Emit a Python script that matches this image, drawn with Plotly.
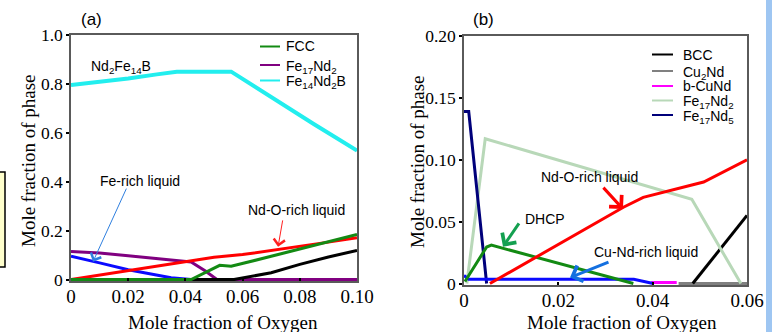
import plotly.graph_objects as go

W, H = 772, 332

# ---------------- Panel (a) data ----------------
a_cyan_x = [0, 0.01, 0.02, 0.03, 0.037, 0.056, 0.07, 0.085, 0.10]
a_cyan_y = [0.795, 0.807, 0.822, 0.839, 0.85, 0.85, 0.745, 0.635, 0.527]
a_purple_x = [0, 0.005, 0.01, 0.02, 0.03, 0.04, 0.042, 0.047, 0.051, 0.06, 0.08, 0.10]
a_purple_y = [0.115, 0.113, 0.108, 0.097, 0.086, 0.077, 0.072, 0.035, 0, 0, 0, 0]
a_blue_x = [0, 0.005, 0.01, 0.02, 0.03, 0.035, 0.04, 0.042]
a_blue_y = [0.095, 0.083, 0.068, 0.04, 0.017, 0.007, 0.002, 0.0]
a_black_x = [0, 0.057, 0.07, 0.08, 0.09, 0.10]
a_black_y = [0, 0, 0.028, 0.062, 0.092, 0.119]
a_red_x = [0, 0.01, 0.02, 0.03, 0.04, 0.05, 0.06, 0.07, 0.08, 0.09, 0.10]
a_red_y = [0, 0.018, 0.036, 0.054, 0.072, 0.091, 0.102, 0.118, 0.135, 0.153, 0.171]
a_green_x = [0, 0.042, 0.052, 0.056, 0.07, 0.08, 0.09, 0.10]
a_green_y = [0, 0, 0.058, 0.054, 0.095, 0.125, 0.154, 0.184]

# ---------------- Panel (b) data ----------------
b_black_x = [0.0485, 0.06]
b_black_y = [0, 0.055]
b_gray_x = [0.0455, 0.06]
b_gray_y = [0, 0]
b_magenta_x = [0.0397, 0.0451]
b_magenta_y = [0.0008, 0.0008]
b_lgreen_x = [0.0006, 0.0045, 0.0483, 0.0587]
b_lgreen_y = [0, 0.117, 0.068, 0]
b_navy_x = [0, 0.001, 0.0048]
b_navy_y = [0.139, 0.139, 0]
b_blue_x = [0, 0.001, 0.036, 0.0401]
b_blue_y = [0.0065, 0.0035, 0.0035, 0]
b_green_x = [0.0002, 0.0048, 0.0058, 0.0359]
b_green_y = [0.0016, 0.0295, 0.031, 0]
b_red_x = [0.0055, 0.02, 0.0338, 0.038, 0.045, 0.0508, 0.06]
b_red_y = [0, 0.0315, 0.0616, 0.0696, 0.0765, 0.082, 0.1]

# tick labels
a_xticks = [0, 0.02, 0.04, 0.06, 0.08, 0.10]
a_xtext = ["0", "0.02", "0.04", "0.06", "0.08", "0.10"]
a_yticks = [0, 0.2, 0.4, 0.6, 0.8, 1.0]
a_ytext = ["0", "0.2", "0.4", "0.6", "0.8", "1.0"]
b_xticks = [0, 0.02, 0.04, 0.06]
b_xtext = ["0", "0.02", "0.04", "0.06"]
b_yticks = [0, 0.05, 0.10, 0.15, 0.20]
b_ytext = ["0", "0.05", "0.10", "0.15", "0.20"]

# legend entries
a_leg_names = ["FCC", "Fe<sub>17</sub>Nd<sub>2</sub>", "Fe<sub>14</sub>Nd<sub>2</sub>B"]
b_leg_names = ["BCC", "Cu<sub>2</sub>Nd", "b-CuNd", "Fe<sub>17</sub>Nd<sub>2</sub>", "Fe<sub>17</sub>Nd<sub>5</sub>"]

SERIF = "Liberation Serif"
SANS = "Liberation Sans"

C_CYAN = "#22eeee"
C_PURPLE = "#800080"
C_BLUE = "#0a0aff"
C_RED = "#ff0000"
C_GREEN = "#138a13"
C_BLACK = "#000000"
C_NAVY = "#00007a"
C_LGREEN = "#b8d8b8"
C_GRAY = "#808080"
C_MAGENTA = "#ff00ff"

a_leg_colors = [C_GREEN, C_PURPLE, C_CYAN]
b_leg_colors = [C_BLACK, C_GRAY, C_MAGENTA, C_LGREEN, C_NAVY]

fig = go.Figure()


def line(x, y, color, width, xa="x", ya="y"):
    fig.add_trace(go.Scatter(x=x, y=y, mode="lines", line=dict(color=color, width=width),
                             xaxis=xa, yaxis=ya, showlegend=False, hoverinfo="skip"))


# panel a
line(a_cyan_x, a_cyan_y, C_CYAN, 4)
line(a_purple_x, a_purple_y, C_PURPLE, 3)
line(a_blue_x, a_blue_y, C_BLUE, 3)
line(a_black_x, a_black_y, C_BLACK, 3)
line(a_red_x, a_red_y, C_RED, 3)
line(a_green_x, a_green_y, C_GREEN, 3)

# panel b
line(b_gray_x, b_gray_y, C_GRAY, 3, "x2", "y2")
line(b_magenta_x, b_magenta_y, C_MAGENTA, 3, "x2", "y2")
line(b_black_x, b_black_y, C_BLACK, 3, "x2", "y2")
line(b_lgreen_x, b_lgreen_y, C_LGREEN, 3, "x2", "y2")
line(b_navy_x, b_navy_y, C_NAVY, 3, "x2", "y2")
line(b_blue_x, b_blue_y, C_BLUE, 3, "x2", "y2")
line(b_green_x, b_green_y, C_GREEN, 3, "x2", "y2")
line(b_red_x, b_red_y, C_RED, 3, "x2", "y2")


def px(x):
    return x / W


def py(y):
    return (H - y) / H


axis_common = dict(showgrid=False, zeroline=False, showline=True, mirror=True,
                   linecolor="#5a5a5a", linewidth=1.5, tickcolor="#000000",
                   tickwidth=2, ticklen=3, automargin=False)
xfont = dict(family=SERIF, size=19, color="#000000")
yfont = dict(family=SERIF, size=17.5, color="#000000")

fig.update_layout(
    width=W, height=H, margin=dict(l=0, r=0, t=0, b=0, pad=0, autoexpand=False),
    paper_bgcolor="white", plot_bgcolor="white", showlegend=False,
    xaxis=dict(domain=[px(71), px(357)], range=[0, 0.1], tickvals=a_xticks, ticktext=a_xtext,
               ticks="inside", anchor="y", tickfont=xfont, ticklabelstandoff=-3, **axis_common),
    yaxis=dict(domain=[py(281), py(35)], range=[-0.006, 1.0], tickvals=a_yticks, ticktext=a_ytext,
               ticks="outside", anchor="x", tickfont=yfont, **axis_common),
    xaxis2=dict(domain=[px(464), px(747)], range=[0, 0.06], tickvals=b_xticks, ticktext=b_xtext,
                ticks="inside", anchor="y2", tickfont=xfont, ticklabelstandoff=-3, **axis_common),
    yaxis2=dict(domain=[py(285), py(36)], range=[-0.0012, 0.2], tickvals=b_yticks, ticktext=b_ytext,
                ticks="outside", anchor="x2", tickfont=yfont, **axis_common),
)

ann = []
shapes = []


def text(x, y, t, size=14, xref="paper", yref="paper", family=SANS, angle=0, xanchor="center"):
    ann.append(dict(x=x, y=y, xref=xref, yref=yref, text=t, showarrow=False,
                    font=dict(family=family, size=size, color="#000"),
                    xanchor=xanchor, yanchor="middle", textangle=angle))


def arrow(hx, hy, tx, ty, color, width, head, size, xr, yr):
    ann.append(dict(x=hx, y=hy, ax=tx, ay=ty, xref=xr, yref=yr, axref=xr, ayref=yr,
                    text="", showarrow=True, arrowcolor=color, arrowwidth=width,
                    arrowhead=head, arrowsize=size, standoff=0, startstandoff=0))


def legend(names, colors, x0, x1, xt, ys, ty_off):
    for n, c, yy in zip(names, colors, ys):
        shapes.append(dict(type="line", xref="paper", yref="paper", x0=px(x0), x1=px(x1),
                           y0=py(yy), y1=py(yy), line=dict(color=c, width=2)))
        off = ty_off if "<sub>" in n else 0
        text(px(xt), py(yy + off), n, size=14, xanchor="left")


# legends
legend(a_leg_names, a_leg_colors, 260, 280, 284, [46.5, 65, 80.5], 1.5)
legend(b_leg_names, b_leg_colors, 652, 673, 681, [54.5, 71, 86, 100.5, 115], 1.5)

# panel titles
text(px(91), py(20), "(a)", size=17)
text(px(483), py(20), "(b)", size=17)
# axis titles
text(px(223), py(322), "Mole fraction of Oxygen", size=19, family=SERIF)
text(px(622), py(322), "Mole fraction of Oxygen", size=19, family=SERIF)
text(px(28), py(161), "Mole fraction of phase", size=19, family=SERIF, angle=-90)
text(px(417), py(162), "Mole fraction of phase", size=19, family=SERIF, angle=-90)

# panel a labels
text(0.0175, 0.87, "Nd<sub>2</sub>Fe<sub>14</sub>B", xref="x", yref="y")
text(0.0241, 0.402, "Fe-rich liquid", xref="x", yref="y")
text(0.079, 0.285, "Nd-O-rich liquid", xref="x", yref="y")
arrow(0.0077, 0.073, 0.0196, 0.378, "#2f7fdf", 1, 4, 2.2, "x", "y")
arrow(0.0724, 0.134, 0.0741, 0.248, "#ff2020", 1, 4, 2.2, "x", "y")

# panel b labels
text(0.0267, 0.0859, "Nd-O-rich liquid", xref="x2", yref="y2")
text(0.01717, 0.0522, "DHCP", xref="x2", yref="y2")
text(0.0386, 0.0257, "Cu-Nd-rich liquid", xref="x2", yref="y2")
arrow(0.0337, 0.0602, 0.02926, 0.0787, C_RED, 3, 4, 1.1, "x2", "y2")
arrow(0.00827, 0.0297, 0.01187, 0.0498, "#14a050", 3, 4, 1.1, "x2", "y2")
arrow(0.02247, 0.0048, 0.03095, 0.0177, "#1470e0", 3, 4, 1.1, "x2", "y2")

shapes += [
    dict(type="rect", xref="paper", yref="paper", x0=px(-2), x1=px(5), y0=py(267), y1=py(172),
         fillcolor="#ffffcc", line=dict(color="#000", width=1.5)),
    dict(type="rect", xref="paper", yref="paper", x0=px(766), x1=px(773), y0=0, y1=1,
         fillcolor="#9ec6f2", line=dict(width=0)),
]

fig.update_layout(annotations=ann, shapes=shapes)

fig.write_html("out.html", config={"displayModeBar": False},
               post_script="document.body.style.margin='0px';document.body.style.padding='0px';"
                           "document.body.style.overflow='hidden';")
